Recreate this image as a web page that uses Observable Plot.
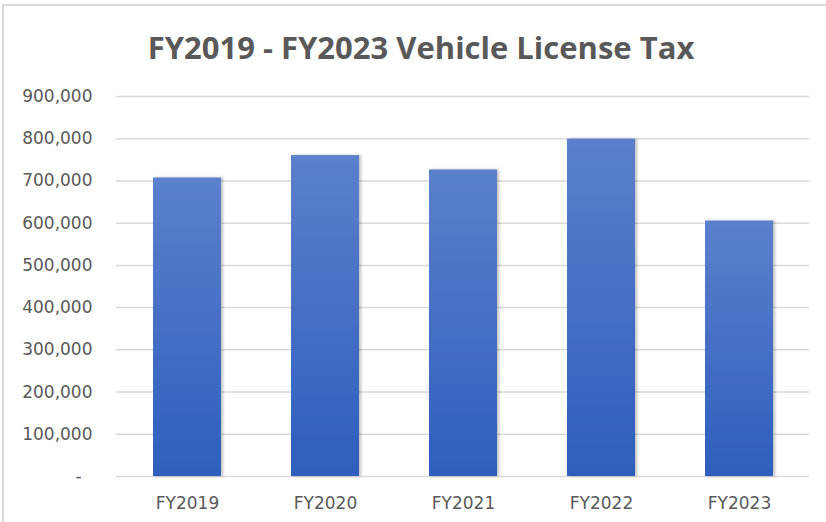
<!DOCTYPE html>
<html>
<head>
<meta charset="utf-8">
<script src="https://cdn.jsdelivr.net/npm/d3@7"></script>
<script src="https://cdn.jsdelivr.net/npm/@observablehq/plot@0.6"></script>
<style>
  html, body { margin: 0; padding: 0; background: #fff; }
  #frame {
    position: absolute; left: 2px; top: 4px; width: 824px; height: 518px;
    border-top: 2px solid #d9d9d9; border-left: 2px solid #d9d9d9;
    box-sizing: border-box; overflow: hidden;
  }
  #title {
    position: absolute; left: 0; top: 4px; width: 834px; height: 74px;
    text-align: center; line-height: 74px;
    font-family: "Open Sans", sans-serif; font-weight: bold;
    font-size: 31px; color: #595959;
  }
  #chart { position: absolute; left: -4px; top: 74px; }
</style>
</head>
<body>
<div id="frame">
  <div id="title">FY2019 - FY2023 Vehicle License Tax</div>
  <div id="chart"></div>
</div>
<script>
const years = ["FY2019", "FY2020", "FY2021", "FY2022", "FY2023"];
const revenue = [707000, 760000, 726000, 799000, 605000];
const yTicks = [0, 100000, 200000, 300000, 400000, 500000, 600000, 700000, 800000, 900000];

const data = years.map((y, i) => ({year: y, value: revenue[i]}));
const fmt = d3.format(",");

const chart = Plot.plot({
  width: 826,
  height: 442,
  marginTop: 16,
  marginBottom: 46,
  marginLeft: 116,
  marginRight: 17,
  style: {fontFamily: "DejaVu Sans, sans-serif", fontSize: "17px", color: "#595959", background: "transparent"},
  x: {domain: years, paddingInner: 0.51, paddingOuter: 0.255, label: null, tickSize: 0, tickPadding: 20},
  y: {domain: [0, 900000], ticks: yTicks, label: null, tickSize: 0, tickPadding: 24,
      tickFormat: d => d === 0 ? "-\u00a0\u00a0" : fmt(d)},
  marks: [
    Plot.ruleY(yTicks, {stroke: "#d9d9d9", strokeWidth: 1.5}),
    Plot.barY(data, {x: "year", y: "value", fill: "url(#barGrad)"})
  ]
});

const svg = d3.select(chart);
const defs = svg.insert("defs", ":first-child");
const g = defs.append("linearGradient").attr("id", "barGrad")
  .attr("x1", 0).attr("y1", 0).attr("x2", 0).attr("y2", 1);
g.append("stop").attr("offset", "0%").attr("stop-color", "#5b80cc");
g.append("stop").attr("offset", "100%").attr("stop-color", "#2e5ebd");
const f = defs.append("filter").attr("id", "barShadow")
  .attr("x", "-10%").attr("y", "-10%").attr("width", "130%").attr("height", "120%");
f.append("feDropShadow").attr("dx", 2).attr("dy", 0).attr("stdDeviation", 1.5)
  .attr("flood-color", "#000").attr("flood-opacity", 0.25);
svg.selectAll("g[aria-label='bar'] rect").attr("filter", "url(#barShadow)");

document.getElementById("chart").appendChild(chart);
</script>
</body>
</html>
